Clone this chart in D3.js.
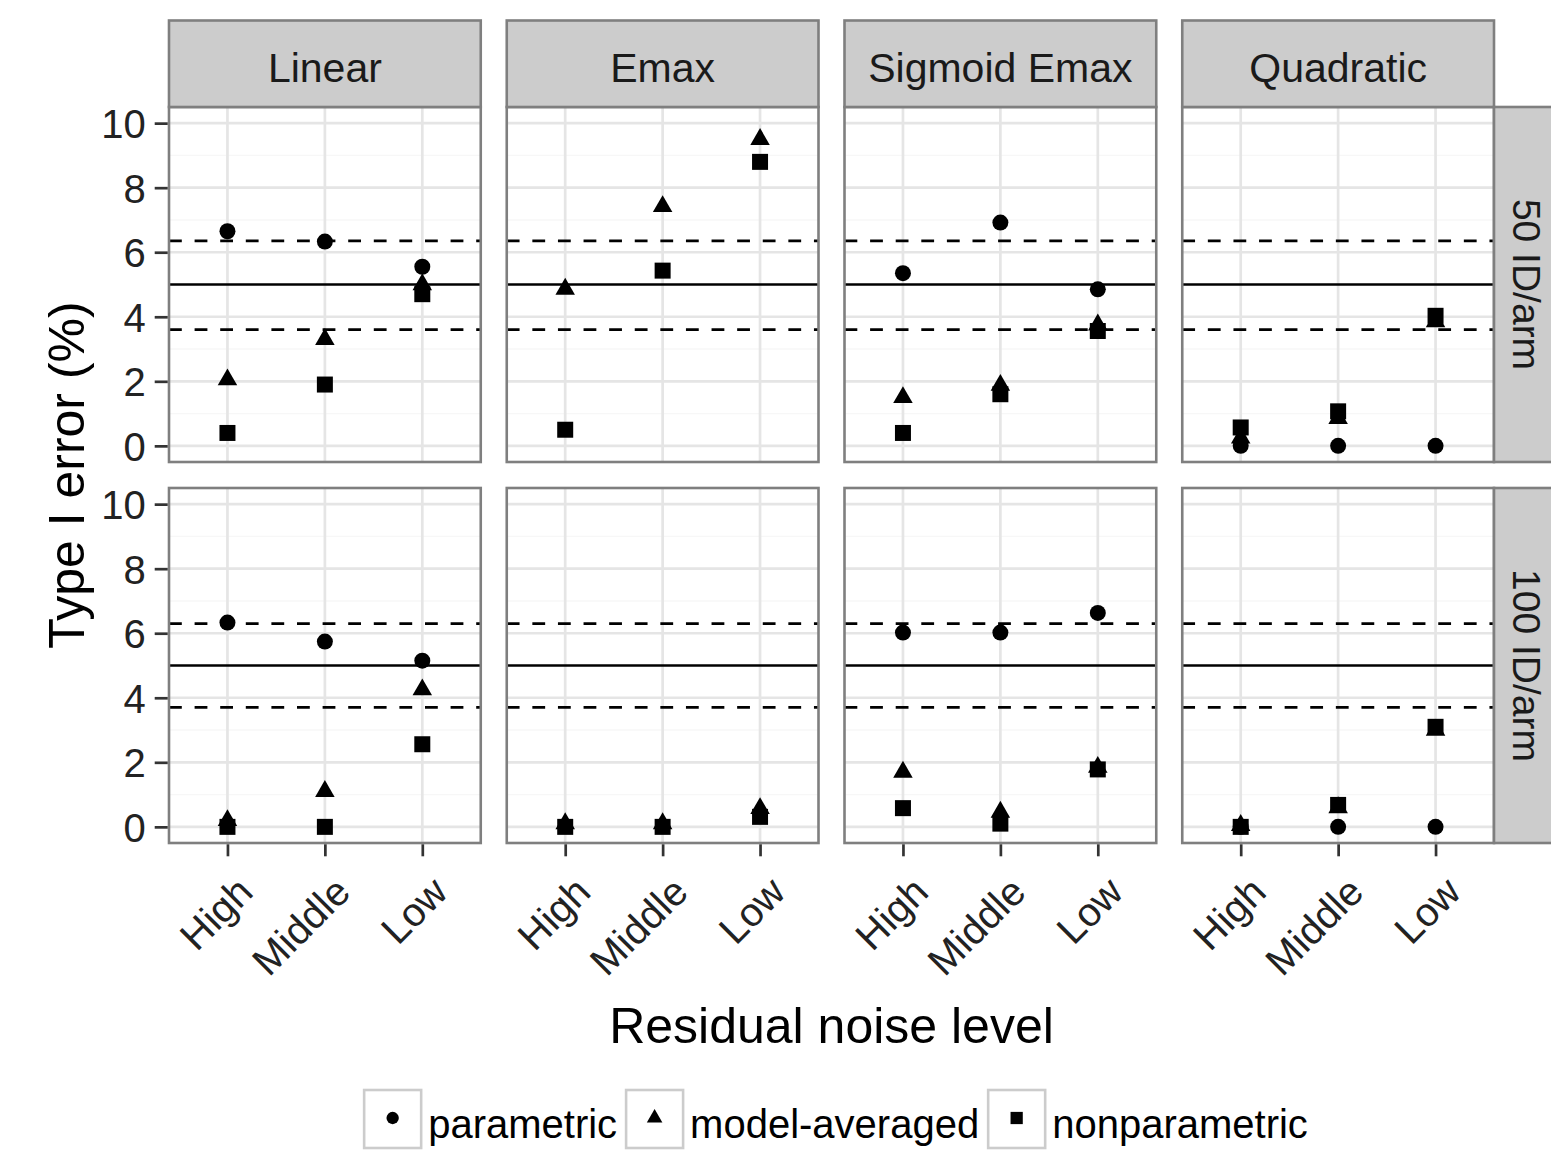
<!DOCTYPE html>
<html>
<head>
<meta charset="utf-8">
<script src="https://cdn.jsdelivr.net/npm/d3@7"></script>
<style>
  body { margin: 0; background: #fff; }
  svg { display: block; }
  text { font-family: "Liberation Sans", Arial, sans-serif; }
</style>
</head>
<body>
<div id="chart"></div>
<script>
// facet labels and categories
const models = ['Linear', 'Emax', 'Sigmoid Emax', 'Quadratic'];
const sampleSizes = ['50 ID/arm', '100 ID/arm'];
const noiseLevels = ['High', 'Middle', 'Low'];
const yTicks = [0, 2, 4, 6, 8, 10];
const yMinor = [1, 3, 5, 7, 9];
const methods = ['parametric', 'model-averaged', 'nonparametric'];

// type I error (%), one row per model, values for High / Middle / Low
const parametric50 = [[6.65, 6.33, 5.55], [null, null, null], [5.35, 6.92, 4.85], [0, 0, 0]];
const modelAvg50 = [[2.05, 3.3, 5.0], [4.86, 7.42, 9.5], [1.5, 1.88, 3.75], [0.25, 0.85, 3.85]];
const nonparametric50 = [[0.4, 1.9, 4.7], [0.5, 5.43, 8.8], [0.4, 1.6, 3.56], [0.57, 1.07, 4.03]];
const parametric100 = [[6.33, 5.74, 5.15], [null, null, null], [6.02, 6.02, 6.63], [0, 0, 0]];
const modelAvg100 = [[0.2, 1.1, 4.25], [0.1, 0.1, 0.57], [1.7, 0.46, 1.85], [0.05, 0.6, 3.0]];
const nonparametric100 = [[0, 0, 2.56], [0, 0, 0.31], [0.58, 0.1, 1.78], [0, 0.68, 3.1]];

// reference lines per sample size: nominal level and its interval
const nominal = [5, 5];
const ciLower = [3.6, 3.7];
const ciUpper = [6.35, 6.3];

const seriesByRow = [
  [parametric50, modelAvg50, nonparametric50],
  [parametric100, modelAvg100, nonparametric100]
];

// 尺寸
const width = 1551, height = 1162;
const layout = { left: 169, right: 1494, top: 107, stripH: 86.5, gap: 26, panelH: 355 };
const panelW = (layout.right - layout.left - 3 * layout.gap) / 4;

const svg = d3.select('#chart')
  .append('svg')
  .attr('width', width)
  .attr('height', height);

// 比例尺
const x = d3.scalePoint()
  .domain(noiseLevels)
  .range([0, panelW])
  .padding(0.6);

const y = d3.scaleLinear()
  .domain([-0.5, 10.5])
  .range([layout.panelH, 0]);

const shapes = [d3.symbolCircle, d3.symbolTriangle, d3.symbolSquare];
const shapeSizes = [201, 165, 256];
const legendSizes = [120, 105, 150];

const panelX = c => layout.left + c * (panelW + layout.gap);
const panelY = r => layout.top + r * (layout.panelH + layout.gap);

sampleSizes.forEach((rowLabel, r) => {
  models.forEach((model, c) => {
    const g = svg.append('g')
      .attr('transform', `translate(${panelX(c)}, ${panelY(r)})`);

    g.append('rect')
      .attr('width', panelW)
      .attr('height', layout.panelH)
      .attr('fill', '#fff');

    // 网格线
    g.selectAll('.minor')
      .data(yMinor)
      .enter()
      .append('line')
      .attr('x1', 0).attr('x2', panelW)
      .attr('y1', d => y(d)).attr('y2', d => y(d))
      .attr('stroke', '#f7f7f7')
      .attr('stroke-width', 1.4);

    g.selectAll('.major')
      .data(yTicks)
      .enter()
      .append('line')
      .attr('x1', 0).attr('x2', panelW)
      .attr('y1', d => y(d)).attr('y2', d => y(d))
      .attr('stroke', '#e5e5e5')
      .attr('stroke-width', 2.7);

    g.selectAll('.xgrid')
      .data(noiseLevels)
      .enter()
      .append('line')
      .attr('x1', d => x(d)).attr('x2', d => x(d))
      .attr('y1', 0).attr('y2', layout.panelH)
      .attr('stroke', '#e5e5e5')
      .attr('stroke-width', 2.7);

    // 参考线
    g.append('line')
      .attr('x1', 0).attr('x2', panelW)
      .attr('y1', y(nominal[r])).attr('y2', y(nominal[r]))
      .attr('stroke', '#000')
      .attr('stroke-width', 2.7);

    [ciLower[r], ciUpper[r]].forEach(v => {
      g.append('line')
        .attr('x1', 0).attr('x2', panelW)
        .attr('y1', y(v)).attr('y2', y(v))
        .attr('stroke', '#000')
        .attr('stroke-width', 2.7)
        .attr('stroke-dasharray', '12.8,12.8');
    });

    // 数据点
    seriesByRow[r].forEach((series, m) => {
      const pts = noiseLevels
        .map((lvl, i) => ({ lvl, value: series[c][i] }))
        .filter(d => d.value != null);
      g.selectAll(`.pt-${m}`)
        .data(pts)
        .enter()
        .append('path')
        .attr('d', d3.symbol().type(shapes[m]).size(shapeSizes[m]))
        .attr('transform', d => `translate(${x(d.lvl)}, ${y(d.value)})`)
        .attr('fill', '#000');
    });

    g.append('rect')
      .attr('width', panelW)
      .attr('height', layout.panelH)
      .attr('fill', 'none')
      .attr('stroke', '#7f7f7f')
      .attr('stroke-width', 2.6);

    // Y轴
    if (c === 0) {
      const ay = svg.append('g')
        .attr('transform', `translate(${panelX(0) - 1.3}, ${panelY(r)})`)
        .call(d3.axisLeft(y).tickValues(yTicks).tickSize(13).tickPadding(9));
      ay.select('.domain').remove();
      ay.selectAll('line').attr('stroke', '#333').attr('stroke-width', 2.7);
      ay.selectAll('text')
        .attr('fill', '#222')
        .style('font-size', '40px')
        .attr('dy', '0.36em');
    }

    // X轴
    if (r === sampleSizes.length - 1) {
      const ax = svg.append('g')
        .attr('transform', `translate(${panelX(c)}, ${panelY(r) + layout.panelH + 1.3})`)
        .call(d3.axisBottom(x).tickSize(12));
      ax.select('.domain').remove();
      ax.selectAll('line').attr('stroke', '#333').attr('stroke-width', 2.7);
      ax.selectAll('text')
        .attr('fill', '#222')
        .style('font-size', '40px')
        .attr('x', 0).attr('y', 0).attr('dy', 0)
        .attr('text-anchor', 'end')
        .attr('transform', 'translate(27, 50) rotate(-45)');
    }

    // 顶部分面标签
    if (r === 0) {
      svg.append('rect')
        .attr('x', panelX(c))
        .attr('y', layout.top - layout.stripH)
        .attr('width', panelW)
        .attr('height', layout.stripH)
        .attr('fill', '#cccccc')
        .attr('stroke', '#7f7f7f')
        .attr('stroke-width', 2.6);
      svg.append('text')
        .attr('x', panelX(c) + panelW / 2)
        .attr('y', 82)
        .attr('text-anchor', 'middle')
        .attr('fill', '#1a1a1a')
        .style('font-size', '41px')
        .text(model);
    }
  });

  // 右侧分面标签
  svg.append('rect')
    .attr('x', layout.right)
    .attr('y', panelY(r))
    .attr('width', layout.stripH)
    .attr('height', layout.panelH)
    .attr('fill', '#cccccc')
    .attr('stroke', '#7f7f7f')
    .attr('stroke-width', 2.6);
  svg.append('text')
    .attr('transform', `translate(1513, ${panelY(r) + layout.panelH / 2}) rotate(90)`)
    .attr('text-anchor', 'middle')
    .attr('fill', '#1a1a1a')
    .style('font-size', '39px')
    .text(rowLabel);
});

// 轴标题
svg.append('text')
  .attr('x', (layout.left + layout.right) / 2)
  .attr('y', 1043)
  .attr('text-anchor', 'middle')
  .style('font-size', '50px')
  .text('Residual noise level');

svg.append('text')
  .attr('transform', `translate(84, ${(panelY(0) + panelY(1) + layout.panelH) / 2}) rotate(-90)`)
  .attr('text-anchor', 'middle')
  .style('font-size', '50px')
  .text('Type I error (%)');

// 图例
const legend = svg.append('g');
const keyW = 57, keyH = 58, keyTop = 1090;
let lx = 0;
methods.forEach((name, m) => {
  legend.append('rect')
    .attr('x', lx).attr('y', keyTop)
    .attr('width', keyW).attr('height', keyH)
    .attr('fill', '#fff')
    .attr('stroke', '#cccccc')
    .attr('stroke-width', 2.6);
  legend.append('path')
    .attr('d', d3.symbol().type(shapes[m]).size(legendSizes[m]))
    .attr('transform', `translate(${lx + keyW / 2}, ${keyTop + keyH / 2 - 1})`)
    .attr('fill', '#000');
  const t = legend.append('text')
    .attr('x', lx + keyW + 7)
    .attr('y', 1138)
    .style('font-size', '40px')
    .text(name);
  lx += keyW + 7 + t.node().getComputedTextLength() + 9;
});
const legendW = lx - 9;
legend.attr('transform', `translate(${836 - legendW / 2}, 0)`);
</script>
</body>
</html>
